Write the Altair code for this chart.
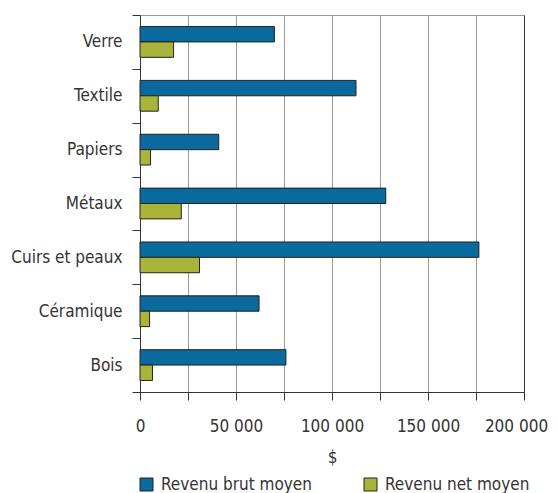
import altair as alt
import pandas as pd

categories = ["Verre", "Textile", "Papiers", "Métaux", "Cuirs et peaux", "Céramique", "Bois"]
series = ["Revenu brut moyen", "Revenu net moyen"]
brut = [70000, 112500, 41000, 128000, 176500, 62000, 76000]
net = [17500, 9500, 5500, 21500, 31000, 5000, 6500]
tick_values = [0, 25000, 50000, 75000, 100000, 125000, 150000, 175000, 200000]
colors = ["#0a6a9e", "#aab43a"]

rows = []
for c, b, n in zip(categories, brut, net):
    rows.append({"cat": c, "series": series[0], "value": b})
    rows.append({"cat": c, "series": series[1], "value": n})
df = pd.DataFrame(rows)

FONT = "DejaVu Sans Condensed"
TXT = "#333333"
FS = 17

chart = alt.Chart(df).mark_bar(stroke="#222222", strokeWidth=1).encode(
    x=alt.X(
        "value:Q",
        scale=alt.Scale(domain=[0, 200000], nice=False),
        axis=alt.Axis(
            values=tick_values,
            labelExpr="datum.value % 50000 == 0 ? replace(format(datum.value, ','), ',', ' ') : ''",
            labelOverlap=False,
            labelFlush=False,
            labelOffset={"condition": {"test": "datum.value == 200000", "value": -8}, "value": 0},
            title="$",
            grid=True,
            gridColor={"condition": {"test": "datum.value == 200000", "value": "#333333"}, "value": "#999999"},
            gridWidth=1,
            tickSize=8,
            tickColor="#333333",
            domainColor="#333333",
            labelPadding=18,
            titlePadding=15,
        ),
    ),
    y=alt.Y(
        "cat:N",
        sort=categories,
        scale=alt.Scale(paddingInner=0, paddingOuter=0),
        axis=alt.Axis(
            title=None,
            tickBand="extent",
            tickSize=8,
            tickColor="#333333",
            domainColor="#333333",
            labelPadding=10,
            grid=False,
        ),
    ),
    yOffset=alt.YOffset("series:N", sort=series, scale=alt.Scale(paddingInner=0, paddingOuter=0.75)),
    color=alt.Color(
        "series:N",
        sort=series,
        scale=alt.Scale(domain=series, range=colors),
        legend=alt.Legend(
            title=None,
            orient="none",
            legendX=-2,
            legendY=461,
            direction="horizontal",
            columns=2,
            columnPadding=50,
            symbolType="square",
            symbolSize=169,
            symbolStrokeColor="#222222",
            symbolStrokeWidth=1,
            labelOffset=6,
            labelFontSize=FS,
            labelFont=FONT,
            labelColor=TXT,
            labelLimit=300,
        ),
    ),
).properties(
    width=384,
    height=377,
    autosize=alt.AutoSizeParams(type="none"),
    padding={"left": 132, "top": 7, "right": 26, "bottom": 110},
).configure_view(
    stroke="#999999",
).configure_axis(
    labelFont=FONT,
    labelFontSize=FS,
    labelColor=TXT,
    titleFont=FONT,
    titleFontSize=FS,
    titleColor=TXT,
    titleFontWeight="normal",
)

chart.save("out.html", embed_options={"renderer": "svg", "actions": False})
